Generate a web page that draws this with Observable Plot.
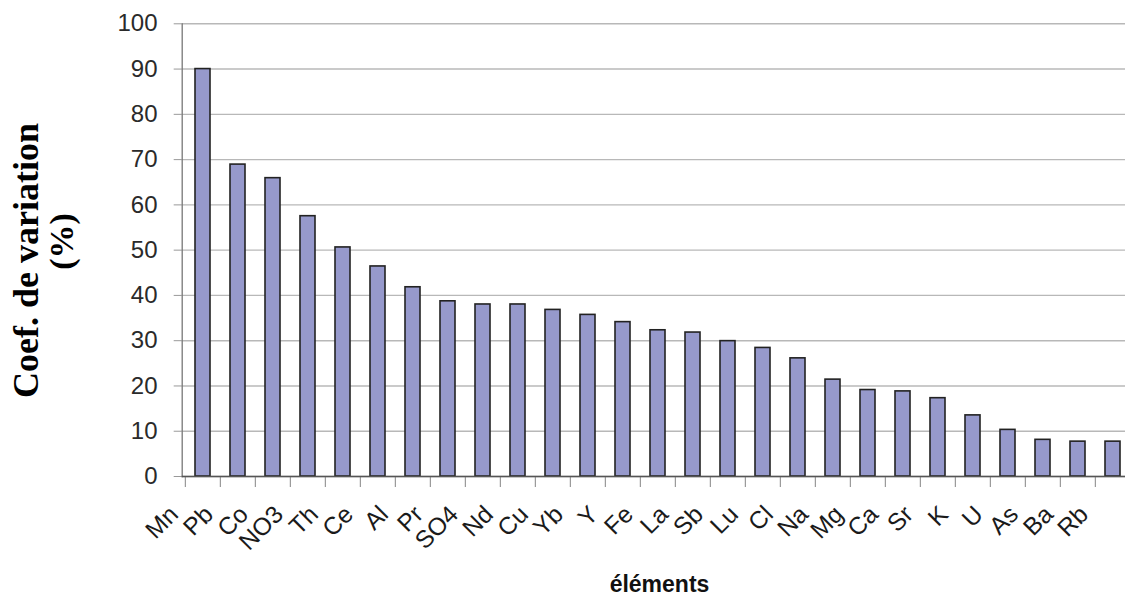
<!DOCTYPE html>
<html>
<head>
<meta charset="utf-8">
<script src="https://cdn.jsdelivr.net/npm/d3@7"></script>
<script src="https://cdn.jsdelivr.net/npm/@observablehq/plot@0.6"></script>
<style>
  html, body { margin: 0; padding: 0; background: #fff; overflow: hidden; }
  svg { overflow: hidden; }
</style>
</head>
<body>
<div id="chart"></div>
<script>
const elements = ["Mn","Pb","Co","NO3","Th","Ce","Al","Pr","SO4","Nd","Cu","Yb","Y","Fe","La","Sb","Lu","Cl","Na","Mg","Ca","Sr","K","U","As","Ba","Rb"];
const coefVariation = [90.0,68.9,65.9,57.5,50.6,46.4,41.8,38.7,38.0,38.0,36.8,35.7,34.1,32.3,31.8,29.9,28.4,26.1,21.4,19.1,18.8,17.3,13.5,10.3,8.1,7.7,7.7];
const yTicks = [0,10,20,30,40,50,60,70,80,90,100];
const yTitleLine1 = "Coef. de variation";
const yTitleLine2 = "(%)";
const xTitle = "éléments";

const data = elements.map((el, i) => ({el, cv: coefVariation[i]}));

const left = 181.7, step = 35.24;
const chart = Plot.plot({
  width: 1125,
  height: 596,
  marginLeft: left,
  marginRight: 0,
  marginTop: 23.3,
  marginBottom: 120,
  style: {fontFamily: "'Liberation Sans', Arial, sans-serif", background: "#fff", overflow: "hidden"},
  x: {type: "band", domain: elements, range: [left, left + step * elements.length], paddingInner: 0.57, paddingOuter: 0.285, label: null},
  y: {domain: [0, 100], label: null},
  marks: [
    Plot.gridY(yTicks, {stroke: "#b8b8b8", strokeOpacity: 1, strokeWidth: 1.4}),
    Plot.axisY(yTicks, {tickSize: 8, tickPadding: 16.7, fontSize: 24, stroke: "#999", color: "#2a2a2a", label: null}),
    Plot.axisX({tickSize: 11, text: null, dx: -step / 2, stroke: "#999", strokeWidth: 1.2, label: null}),
    Plot.axisX({tickSize: 0, tickRotate: -45, fontSize: 24.5, fill: "#1a1a1a", dx: -29, dy: 22, label: null}),
    Plot.barY(data, {x: "el", y: "cv", fill: "#9699cc", stroke: "#222", strokeWidth: 1.6}),
    Plot.frame({anchor: "left", stroke: "#777", strokeWidth: 1.3}),
    Plot.ruleY([0], {stroke: "#555", strokeWidth: 1.3}),
    Plot.text([yTitleLine1], {text: d => d, frameAnchor: "left", rotate: -90, dx: 37 - left, dy: 260 - 249.65, lineAnchor: "bottom", textAnchor: "middle", fontSize: 36, fontWeight: "bold", fontFamily: "'Liberation Serif', 'Times New Roman', serif", fill: "#000"}),
    Plot.text([yTitleLine2], {text: d => d, frameAnchor: "left", rotate: -90, dx: 72 - left, dy: 241 - 249.65, lineAnchor: "bottom", textAnchor: "middle", fontSize: 34, fontWeight: "bold", fontFamily: "'Liberation Serif', 'Times New Roman', serif", fill: "#000"}),
    Plot.text([xTitle], {text: d => d, frameAnchor: "bottom", dx: 659 - (left + 1125) / 2, dy: 115, lineAnchor: "bottom", fontSize: 23, fontWeight: "bold", fill: "#111"})
  ]
});
document.getElementById("chart").appendChild(chart);
</script>
</body>
</html>
